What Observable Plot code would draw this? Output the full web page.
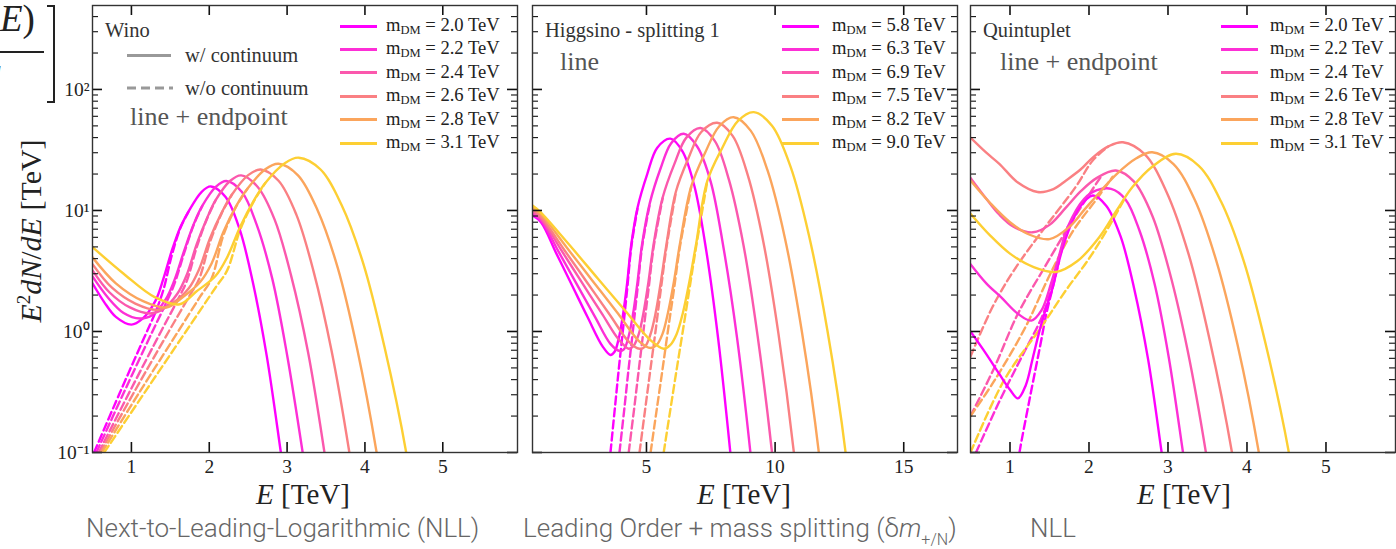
<!DOCTYPE html>
<html><head><meta charset="utf-8">
<script src="https://cdn.jsdelivr.net/npm/d3@7"></script>
<script src="https://cdn.jsdelivr.net/npm/@observablehq/plot@0.6"></script>
<style>
html,body{margin:0;padding:0;background:#fff;}
body{width:1396px;height:549px;overflow:hidden;position:relative;font-family:"Liberation Serif",serif;color:#222;}
.abs{position:absolute;white-space:nowrap;}
.panel{position:absolute;top:0;}
.leg{position:absolute;white-space:nowrap;font-size:18.6px;line-height:18px;color:#222;}
.leg sub{font-size:12.5px;vertical-align:-3px;line-height:0;}
.sw{position:absolute;height:3px;}
.cap{position:absolute;white-space:nowrap;font-family:Roboto,"Liberation Sans",sans-serif;font-weight:300;color:#666;font-size:26px;line-height:26px;}
.xl{position:absolute;white-space:nowrap;font-size:29px;line-height:29px;transform:translateX(-50%);}
.note{position:absolute;white-space:nowrap;color:#555;font-size:26px;line-height:26px;}
.name{position:absolute;white-space:nowrap;color:#333;font-size:20.5px;line-height:20px;}
</style></head><body>
<script>
// ---------- data ----------
const colors = ["#ff00ff", "#fd2fd6", "#fb58ad", "#fa8083", "#fba55c", "#fdcf33"];
const winoMasses = ["2.0", "2.2", "2.4", "2.6", "2.8", "3.1"];
const higgsMasses = ["5.8", "6.3", "6.9", "7.5", "8.2", "9.0"];
const quinMasses = ["2.0", "2.2", "2.4", "2.6", "2.8", "3.1"];
const winoTicks = [1, 2, 3, 4, 5];
const higgsTicks = [5, 10, 15];
const quinTicks = [1, 2, 3, 4, 5];
const yMajor = [0.1, 1, 10, 100];
const yMinor = [0.2,0.3,0.4,0.5,0.6,0.7,0.8,0.9,2,3,4,5,6,7,8,9,20,30,40,50,60,70,80,90,200,300,400];
const yTickText = ["10⁻¹", "10⁰", "10¹", "10²"];

// Wino: w/ continuum (solid)
const winoSolid = [
 [[0.5,2.5],[0.65,1.75],[0.8,1.32],[1.0,1.14],[1.14,1.27],[1.31,1.8],[1.41,2.72],[1.52,4.67],[1.63,7.3],[1.73,9.7],[1.9,14.2],[2.02,15.8],[2.21,12.9],[2.39,7.0],[2.56,2.55],[2.74,0.62],[2.92,0.1],[2.97,0.06]],
 [[0.5,2.85],[0.7,1.9],[0.9,1.42],[1.11,1.28],[1.27,1.37],[1.44,1.84],[1.55,2.63],[1.68,4.7],[1.8,7.7],[1.91,10.9],[2.09,15.8],[2.22,17.5],[2.42,14.2],[2.61,7.6],[2.81,2.72],[3.0,0.64],[3.2,0.1],[3.25,0.06]],
 [[0.5,3.2],[0.72,2.1],[0.98,1.58],[1.24,1.41],[1.4,1.52],[1.59,2.05],[1.71,2.93],[1.84,5.3],[1.97,8.6],[2.08,12.1],[2.27,17.6],[2.41,19.5],[2.62,15.7],[2.84,8.4],[3.05,2.92],[3.27,0.67],[3.48,0.1],[3.53,0.06]],
 [[0.5,3.6],[0.75,2.3],[1.05,1.7],[1.34,1.51],[1.52,1.7],[1.74,2.29],[1.87,3.27],[2.01,5.9],[2.16,9.6],[2.29,13.5],[2.5,19.6],[2.66,21.8],[2.89,17.6],[3.12,9.2],[3.34,3.14],[3.57,0.7],[3.8,0.1],[3.85,0.06]],
 [[0.5,4.1],[0.8,2.5],[1.15,1.78],[1.45,1.58],[1.65,1.9],[1.88,2.55],[2.03,3.65],[2.18,6.6],[2.34,10.7],[2.49,15.1],[2.72,21.9],[2.89,24.3],[3.14,19.5],[3.39,10.1],[3.65,3.37],[3.9,0.72],[4.15,0.1],[4.2,0.06]],
 [[0.5,4.98],[0.9,3.0],[1.3,1.92],[1.62,1.68],[1.83,2.13],[2.08,2.87],[2.23,4.1],[2.4,7.4],[2.57,12.0],[2.72,16.9],[2.97,24.6],[3.15,27.3],[3.43,21.8],[3.7,11.1],[3.98,3.62],[4.25,0.75],[4.53,0.1],[4.58,0.06]]
];
// Wino: w/o continuum (dashed)
const winoDashed = [
 [[0.52,0.1],[0.85,0.31],[1.15,0.85],[1.31,1.45],[1.41,2.2],[1.52,4.3],[1.63,7.2],[1.73,9.7]],
 [[0.55,0.1],[0.91,0.32],[1.27,1.0],[1.44,1.69],[1.55,2.45],[1.68,4.5],[1.8,7.6],[1.91,10.9]],
 [[0.58,0.1],[0.98,0.32],[1.38,1.0],[1.59,1.8],[1.71,2.6],[1.84,5.0],[1.97,8.5],[2.08,12.1]],
 [[0.6,0.1],[1.04,0.32],[1.48,1.0],[1.74,1.94],[1.87,2.72],[2.01,5.5],[2.16,9.5],[2.29,13.5]],
 [[0.62,0.1],[1.11,0.32],[1.6,1.0],[1.88,1.93],[2.03,2.74],[2.18,6.2],[2.34,10.6],[2.49,15.1]],
 [[0.65,0.1],[1.18,0.32],[1.7,1.0],[2.08,2.3],[2.23,3.2],[2.4,7.0],[2.57,11.8],[2.72,16.9]]
];
// Higgsino: solid
const higgsSolid = [
 [[0.57,9.1],[0.9,8.0],[1.5,4.4],[2.1,2.42],[2.7,1.33],[3.3,0.75],[3.6,0.64],[3.76,0.68],[3.92,0.87],[4.08,1.34],[4.25,2.52],[4.41,5.24],[4.65,10.5],[5.03,20],[5.42,33],[5.93,39.2],[6.4,30.8],[6.86,16],[7.33,4.57],[7.79,0.86],[8.26,0.1],[8.36,0.06]],
 [[0.57,9.4],[0.9,8.3],[1.6,4.5],[2.3,2.44],[3.0,1.32],[3.6,0.79],[3.95,0.69],[4.12,0.71],[4.3,0.9],[4.47,1.36],[4.65,2.55],[4.83,5.27],[5.13,11.5],[5.54,22],[5.96,36],[6.45,43],[6.97,33.8],[7.49,17.5],[8.0,4.85],[8.52,0.89],[9.04,0.1],[9.14,0.06]],
 [[0.57,9.8],[0.9,8.6],[1.7,4.66],[2.5,2.52],[3.3,1.37],[3.9,0.87],[4.31,0.72],[4.5,0.76],[4.7,0.95],[4.88,1.41],[5.08,2.59],[5.28,5.3],[5.63,12.8],[6.09,24.4],[6.55,40],[7.1,48],[7.66,37.4],[8.21,17.8],[8.77,5.19],[9.32,0.92],[9.88,0.1],[9.98,0.06]],
 [[0.57,10.2],[0.9,8.9],[1.8,4.74],[2.7,2.53],[3.6,1.35],[4.3,0.83],[4.73,0.72],[4.94,0.75],[5.15,0.94],[5.35,1.4],[5.56,2.58],[5.78,5.3],[6.14,14.2],[6.63,27],[7.13,44.5],[7.75,53],[8.35,41.3],[8.94,19.5],[9.54,5.55],[10.13,0.96],[10.73,0.1],[10.83,0.06]],
 [[0.57,10.6],[0.9,9.3],[1.9,4.94],[2.9,2.63],[3.9,1.4],[4.74,0.82],[5.16,0.73],[5.39,0.77],[5.62,0.95],[5.83,1.41],[6.07,2.6],[6.3,5.3],[6.74,15.8],[7.28,30],[7.83,49.7],[8.39,59],[9.05,45.7],[9.71,21.3],[10.38,5.93],[11.04,1.0],[11.7,0.1],[11.8,0.06]],
 [[0.57,11],[0.88,9.7],[2.0,5.2],[3.1,2.75],[4.2,1.46],[5.15,0.85],[5.67,0.72],[5.92,0.77],[6.17,0.95],[6.41,1.41],[6.67,2.59],[6.93,5.3],[7.36,17.4],[7.95,33],[8.55,54.8],[9.17,65],[9.88,50.1],[10.6,23],[11.31,6.31],[12.03,1.03],[12.74,0.1],[12.84,0.06]]
];
// Higgsino: dashed
const higgsDashed = [
 [[3.55,0.08],[3.6,0.1],[3.76,0.22],[3.92,0.48],[4.08,1.0],[4.25,2.24],[4.41,5.0],[4.65,10.3]],
 [[3.9,0.08],[3.95,0.1],[4.13,0.22],[4.3,0.48],[4.47,1.0],[4.65,2.24],[4.83,5.0],[5.13,11.3]],
 [[4.26,0.08],[4.31,0.1],[4.51,0.22],[4.7,0.48],[4.88,1.0],[5.08,2.24],[5.28,5.0],[5.63,12.6]],
 [[4.67,0.08],[4.73,0.1],[4.94,0.22],[5.15,0.48],[5.35,1.0],[5.56,2.24],[5.78,5.0],[6.14,14]],
 [[5.09,0.08],[5.16,0.1],[5.39,0.22],[5.62,0.48],[5.83,1.0],[6.07,2.24],[6.3,5.0],[6.74,15.6]],
 [[5.6,0.08],[5.67,0.1],[5.92,0.22],[6.17,0.48],[6.41,1.0],[6.67,2.24],[6.93,5.0],[7.36,17.2]]
];
// Quintuplet: solid
const quinSolid = [
 [[0.5,1.0],[0.7,0.65],[0.86,0.45],[1.0,0.33],[1.1,0.28],[1.2,0.36],[1.29,0.61],[1.38,1.05],[1.46,1.58],[1.54,2.3],[1.62,3.8],[1.71,6.0],[1.88,10.6],[2.05,13.3],[2.22,10.9],[2.4,6.1],[2.57,2.29],[2.75,0.58],[2.92,0.1],[2.97,0.06]],
 [[0.5,3.6],[0.7,2.5],[0.886,1.92],[1.1,1.4],[1.27,1.23],[1.4,1.5],[1.52,2.5],[1.62,4.2],[1.73,7.3],[1.94,12.5],[2.1,14.7],[2.28,15.1],[2.46,12.4],[2.64,6.8],[2.83,2.48],[3.01,0.61],[3.19,0.1],[3.24,0.06]],
 [[0.5,18.6],[0.7,12.5],[0.86,9.3],[1.05,7.3],[1.29,6.6],[1.5,7.6],[1.71,10.6],[1.9,14.5],[2.1,18.6],[2.34,21.4],[2.57,17.3],[2.8,9.1],[3.02,3.1],[3.25,0.69],[3.48,0.1],[3.53,0.06]],
 [[0.5,40],[0.7,30],[0.865,24.3],[1.1,17],[1.35,14.2],[1.55,15],[1.71,17.7],[1.9,22],[2.05,27.5],[2.25,34],[2.43,36.6],[2.71,28.9],[2.98,14.3],[3.26,4.38],[3.53,0.84],[3.81,0.1],[3.86,0.06]],
 [[0.5,17.7],[0.75,11.5],[1.0,8.0],[1.25,6.3],[1.5,5.8],[1.75,7.3],[1.95,10.3],[2.15,14.5],[2.35,20],[2.6,27],[2.8,30.3],[3.07,24.2],[3.34,12.2],[3.61,3.87],[3.88,0.78],[4.15,0.1],[4.2,0.06]],
 [[0.5,9.4],[0.75,6.2],[1.0,4.4],[1.3,3.4],[1.58,3.1],[1.85,3.8],[2.13,6.0],[2.35,10],[2.55,15.6],[2.8,23],[3.1,29.4],[3.39,23.4],[3.67,11.9],[3.96,3.8],[4.24,0.77],[4.53,0.1],[4.58,0.06]]
];
// Quintuplet: dashed
const quinDashed = [
 [[1.1,0.08],[1.12,0.1],[1.25,0.28],[1.38,0.75],[1.46,1.4],[1.54,2.3],[1.62,3.8]],
 [[0.57,0.1],[0.86,0.26],[1.15,0.62],[1.4,1.3],[1.52,2.2],[1.62,4.0],[1.73,7.3]],
 [[0.5,0.2],[0.8,0.5],[1.1,1.4],[1.45,3.5],[1.75,7.5],[2.0,13.5],[2.15,19]],
 [[0.5,0.62],[0.78,1.6],[1.05,3.2],[1.41,6.8],[1.83,15.6],[2.05,26],[2.25,34]],
 [[0.5,0.2],[0.8,0.39],[1.2,1.1],[1.5,2.9],[1.8,6.8],[2.1,12.5],[2.3,19]],
 [[0.5,0.1],[0.93,0.4],[1.4,1.1],[1.71,2.2],[2.0,4.0],[2.26,7.5],[2.45,12.5]]
];

// ---------- drawing ----------
const FW = 425, H = 549, MT = 5, MB = 97, FH = H - MT - MB;

function makePanel({solid, dashed, xDomain, xTicks, mLeft, mRight, yLabels}) {
  const marks = [];
  dashed.forEach((pts, i) => marks.push(Plot.line(pts, {x: d => d[0], y: d => d[1], stroke: colors[i], strokeWidth: 2.4, strokeDasharray: "8,4", curve: "catmull-rom", clip: true})));
  solid.forEach((pts, i) => marks.push(Plot.line(pts, {x: d => d[0], y: d => d[1], stroke: colors[i], strokeWidth: 2.4, curve: "catmull-rom", clip: true})));
  const tk = {stroke: "#111", strokeWidth: 1.6};
  const tm = {stroke: "#111", strokeWidth: 1.1};
  marks.push(Plot.ruleX(xTicks, {x: d => d, insetTop: FH - 10, ...tk}));
  marks.push(Plot.ruleX(xTicks, {x: d => d, insetBottom: FH - 10, ...tk}));
  marks.push(Plot.ruleY(yMajor, {y: d => d, insetRight: FW - 10, ...tk}));
  marks.push(Plot.ruleY(yMajor, {y: d => d, insetLeft: FW - 10, ...tk}));
  marks.push(Plot.ruleY(yMinor, {y: d => d, insetRight: FW - 6, ...tm}));
  marks.push(Plot.ruleY(yMinor, {y: d => d, insetLeft: FW - 6, ...tm}));
  marks.push(Plot.frame({stroke: "#333", strokeWidth: 1.4}));
  marks.push(Plot.axisX(xTicks, {tickSize: 0, tickPadding: 7, tickFormat: d => String(d), label: null}));
  if (yLabels) marks.push(Plot.axisY(yMajor, {anchor: "left", tickSize: 0, tickPadding: 3, tickFormat: (d, i) => yTickText[yMajor.indexOf(d)], label: null}));
  return Plot.plot({
    width: mLeft + FW + mRight, height: H,
    marginLeft: mLeft, marginRight: mRight, marginTop: MT, marginBottom: MB,
    x: {domain: xDomain, label: null},
    y: {type: "log", domain: [0.1, 494], label: null, axis: yLabels ? undefined : null},
    style: {fontFamily: '"Liberation Serif", serif', fontSize: "19.5px", color: "#222", background: "transparent", overflow: "visible"},
    marks
  });
}

function place(el, left) {
  const d = document.createElement("div");
  d.className = "panel"; d.style.left = left + "px";
  d.appendChild(el); document.body.appendChild(d);
}
place(makePanel({solid: winoSolid, dashed: winoDashed, xDomain: [0.5, 5.96], xTicks: winoTicks, mLeft: 92, mRight: 4, yLabels: true}), 0);
place(makePanel({solid: higgsSolid, dashed: higgsDashed, xDomain: [0.57, 17.09], xTicks: higgsTicks, mLeft: 4, mRight: 4, yLabels: false}), 528);
place(makePanel({solid: quinSolid, dashed: quinDashed, xDomain: [0.5, 5.88], xTicks: quinTicks, mLeft: 4, mRight: 1, yLabels: false}), 966);

function html(s) { const d = document.createElement("div"); d.innerHTML = s; while (d.firstChild) document.body.appendChild(d.firstChild); }

function legend(masses, swLeft, txtLeft) {
  masses.forEach((m, i) => {
    const cy = 26 + i * 23.4;
    html(`<div class="sw" style="left:${swLeft}px;top:${cy - 1.5}px;width:37px;background:${colors[i]}"></div>`);
    html(`<div class="leg" style="left:${txtLeft}px;top:${cy - 10}px">m<sub>DM</sub> = ${m} TeV</div>`);
  });
}
legend(winoMasses, 340, 386);
legend(higgsMasses, 782, 832);
legend(quinMasses, 1221, 1270);

html(`
<div class="name" style="left:105px;top:20px">Wino</div>
<div class="sw" style="left:127px;top:54px;width:44px;background:#999"></div>
<div class="name" style="left:185px;top:45px">w/ continuum</div>
<svg class="abs" style="left:127px;top:85px" width="46" height="6"><line x1="0" y1="3" x2="46" y2="3" stroke="#999" stroke-width="3" stroke-dasharray="9,5"/></svg>
<div class="name" style="left:185px;top:78px">w/o continuum</div>
<div class="note" style="left:130px;top:104px">line + endpoint</div>
<div class="name" style="left:545px;top:20px">Higgsino - splitting 1</div>
<div class="note" style="left:560px;top:49px">line</div>
<div class="name" style="left:983px;top:20px">Quintuplet</div>
<div class="note" style="left:1000px;top:49px">line + endpoint</div>

<div class="xl" style="left:303px;top:480px"><i>E</i> [TeV]</div>
<div class="xl" style="left:744px;top:480px"><i>E</i> [TeV]</div>
<div class="xl" style="left:1184px;top:480px"><i>E</i> [TeV]</div>

<div class="abs" style="left:31px;top:231px;transform:translate(-50%,-50%) rotate(-90deg);font-size:30px;line-height:30px;"><i>E</i><sup style="font-size:19px;vertical-align:11px;line-height:0">2</sup><i>dN</i>/<i>dE</i> [TeV]</div>

<div class="abs" style="left:0px;top:1px;font-size:37px;line-height:36px;"><i>E</i>)</div>
<div class="abs" style="left:0;top:51px;width:44px;height:2px;background:#222"></div>
<div class="abs" style="left:-21px;top:58px;font-size:36px;line-height:40px;"><i>E</i></div>
<div class="abs" style="left:47px;top:5px;width:6px;height:94px;border-top:2px solid #222;border-right:2px solid #222;border-bottom:2px solid #222"></div>

<div class="cap" style="left:86px;top:515px">Next-to-Leading-Logarithmic (NLL)</div>
<div class="cap" style="left:523px;top:515px">Leading Order + mass splitting (δ<i>m</i><sub style="font-size:16px;vertical-align:-8px;line-height:0">+/N</sub>)</div>
<div class="cap" style="left:1030px;top:515px">NLL</div>
`);
</script>
</body></html>
